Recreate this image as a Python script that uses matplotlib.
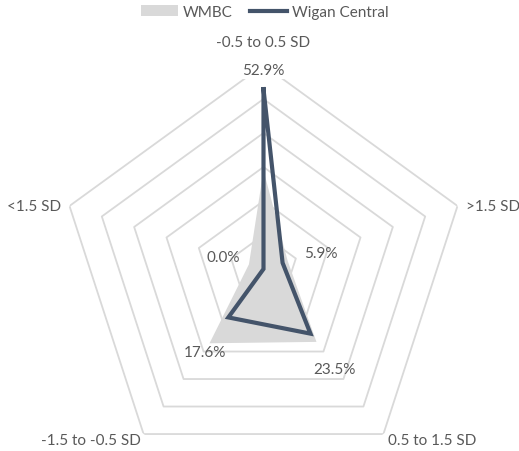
import numpy as np
import matplotlib
matplotlib.use("Agg")
import matplotlib.pyplot as plt
from matplotlib.patches import Patch
from matplotlib.lines import Line2D

W_PX = 519
H_PX = 452
DPI = 100

categories = ["-0.5 to 0.5 SD", ">1.5 SD", "0.5 to 1.5 SD", "-1.5 to -0.5 SD", "<1.5 SD"]
wigan_central = [52.9, 5.9, 23.5, 17.6, 0.0]
wmbc = [29.0, 7.5, 26.5, 27.0, 4.5]
ring_values = [10, 20, 30, 40, 50, 60]

LINE_COLOR = "#44546A"
FILL_COLOR = "#D9D9D9"
GRID_COLOR = "#D9D9D9"
TEXT_COLOR = "#595959"

plt.rcParams["font.family"] = ["Lato", "DejaVu Sans"]

fig = plt.figure(figsize=(W_PX / DPI, H_PX / DPI), dpi=DPI)

# place the polar axes so its centre sits at (263.5, 270) px with radius 204 px
cx, cy, R = 263.5, 270, 204
ax = fig.add_axes([(cx - R) / W_PX, (H_PX - cy - R) / H_PX, 2 * R / W_PX, 2 * R / H_PX],
                  projection="polar")
ax.set_theta_zero_location("N")
ax.set_theta_direction(-1)
ax.set_ylim(0, ring_values[-1])
ax.grid(False)
ax.set_xticks([])
ax.set_yticks([])
ax.spines["polar"].set_visible(False)
ax.patch.set_alpha(0)

n = len(categories)
angles = np.linspace(0, 2 * np.pi, n, endpoint=False)
closed = np.append(angles, angles[0])

# pentagon rings
for r in ring_values:
    ax.plot(closed, [r] * (n + 1), color=GRID_COLOR, lw=1.3, zorder=1)

# WMBC filled area
ax.fill(closed, wmbc + wmbc[:1], color=FILL_COLOR, lw=0, zorder=2)

# Wigan Central line
ax.plot(closed, wigan_central + wigan_central[:1], color=LINE_COLOR, lw=3,
        solid_joinstyle="miter", zorder=3)

# data labels
label_offsets = [(0, 19), (38, 10), (24, -35), (-23, -35), (-40, 12)]
for a, v, off in zip(angles, wigan_central, label_offsets):
    bbox = None
    if off == (0, 19):
        bbox = dict(facecolor="white", edgecolor="none", pad=1)
    ax.annotate(f"{v:.1f}%", (a, v), xytext=off, textcoords="offset pixels",
                ha="center", va="center", fontsize=11, color=TEXT_COLOR,
                bbox=bbox, zorder=4)

# category labels
cat_pos = [(0, 23, "center"), (8, 0, "left"), (4, -6, "left"), (-4, -6, "right"), (-8, 0, "right")]
for a, cat, (dx, dy, ha) in zip(angles, categories, cat_pos):
    if cat == "0.5 to 1.5 SD":
        ha, dx = "center", 49
    if cat == "-1.5 to -0.5 SD":
        ha, dx = "center", -53
    ax.annotate(cat, (a, ring_values[-1]), xytext=(dx, dy), textcoords="offset pixels",
                ha=ha, va="center", fontsize=11, color=TEXT_COLOR,
                annotation_clip=False)

handles = [Patch(facecolor=FILL_COLOR, edgecolor="none"),
           Line2D([0], [0], color=LINE_COLOR, lw=3)]
fig.legend(handles, ["WMBC", "Wigan Central"], loc="center", bbox_to_anchor=(0.51, 1 - 13 / H_PX),
           ncol=2, frameon=False, fontsize=11, labelcolor=TEXT_COLOR,
           handlelength=2.4, handletextpad=0.3, columnspacing=1.2)

fig.savefig("out.png", dpi=DPI)
